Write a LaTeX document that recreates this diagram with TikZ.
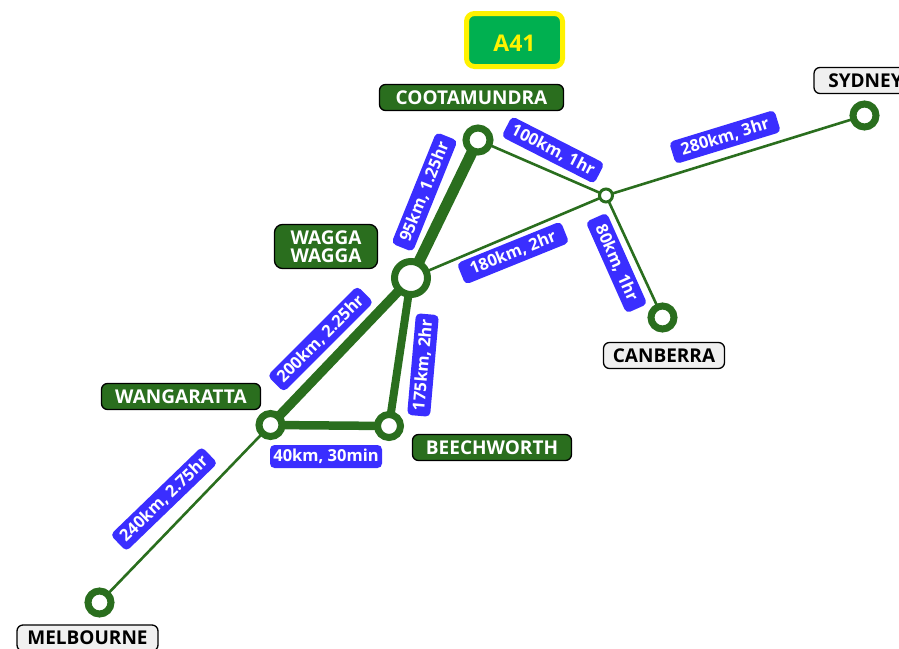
\documentclass[tikz,border=0pt]{standalone}
\usepackage{fontspec}
\setmainfont{Open Sans}
\definecolor{routegreen}{HTML}{2A6E1E}
\definecolor{signgreen}{HTML}{00B050}
\definecolor{timeblue}{HTML}{3A2EFF}
\definecolor{towngrey}{HTML}{F0F0F0}
\tikzset{
	station/.style={draw=routegreen, fill=white, circle, inner sep=0pt, outer sep=0pt, line width=7pt, minimum size=23pt},
	junction/.style={draw=routegreen, fill=white, circle, inner sep=0pt, outer sep=0pt, line width=3pt, minimum size=13pt},
	major/.style={draw=black, line width=1.3pt, fill=routegreen, text=white, rounded corners=6pt, font=\fontsize{19}{19}\selectfont\bfseries, align=center, inner sep=0pt},
	minor/.style={draw=black, line width=1.3pt, fill=towngrey, text=black, rounded corners=6pt, font=\fontsize{19}{19}\selectfont\bfseries, inner sep=0pt},
	timing/.style={fill=timeblue, text=white, rounded corners=4.5pt, font=\fontsize{16.5}{17}\selectfont\bfseries, inner sep=0pt, minimum height=23pt},
	road/.style={draw=routegreen, line width=2.6pt},
}
\begin{document}
\begin{tikzpicture}[x=1pt, y=-1pt]
	\useasboundingbox (0,0) rectangle (899,648);
	\node[station, minimum size=33pt] (wagga) at (411,278) {};
	\node[station, minimum size=24pt] (coota) at (478,140) {};
	\node[station] (wang) at (270.5,425) {};
	\node[station] (beech) at (389,426) {};
	\node[station] (melb) at (99.5,602.5) {};
	\node[station] (syd) at (864.5,115.5) {};
	\node[station] (canb) at (662.5,317.5) {};
	\node[junction] (junc) at (606,195.5) {};
	\draw[road, line width=11pt] (wagga) -- (coota);
	\draw[road, line width=9.5pt] (wagga) -- (wang);
	\draw[road, line width=8pt] (wagga) -- (beech);
	\draw[road, line width=8.5pt] (wang) -- (beech);
	\draw[road] (wang) -- (melb);
	\draw[road] (wagga) -- (junc);
	\draw[road] (coota) -- (junc);
	\draw[road] (junc) -- (syd);
	\draw[road] (junc) -- (canb);
	\node[draw=yellow, line width=5pt, fill=signgreen, text=yellow, rounded corners=8pt, font=\fontsize{23}{24}\selectfont\bfseries, minimum width=96pt, minimum height=53pt, inner sep=0pt, text height=22.4pt, text depth=0pt] (sign) at (514.5,40) {A41};
	\node[major, minimum width=184pt, minimum height=26pt] (lcoota) at (471.5,97.5) {COOTAMUNDRA};
	\node[major, minimum width=103pt, minimum height=44pt, rounded corners=8pt, font=\fontsize{19}{18.5}\selectfont\bfseries] (lwagga) at (326,246.5) {WAGGA\\WAGGA};
	\node[major, minimum width=159pt, minimum height=26pt] (lwang) at (181,396.5) {WANGARATTA};
	\node[major, minimum width=159pt, minimum height=26pt] (lbeech) at (492,447.5) {BEECHWORTH};
	\node[minor, minimum width=141pt, minimum height=26pt] (lmelb) at (87.5,638) {MELBOURNE};
	\node[minor, minimum width=103pt, minimum height=26pt] (lsyd) at (865.5,80.5) {SYDNEY};
	\node[minor, minimum width=121pt, minimum height=26pt] (lcanb) at (664,355.5) {CANBERRA};
	\node[timing, minimum width=110pt, rotate=17] (t1) at (725,137) {280km, 3hr};
	\node[timing, minimum width=104pt, rotate=-27] (t2) at (553,150) {100km, 1hr};
	\node[timing, minimum width=120pt, rotate=68] (t3) at (424.5,192) {95km, 1.25hr};
	\node[timing, minimum width=112pt, rotate=22] (t4) at (513,253) {180km, 2hr};
	\node[timing, minimum width=127pt, rotate=45] (t5) at (320.5,339) {200km, 2.25hr};
	\node[timing, minimum width=102pt, rotate=85] (t6) at (423,365) {175km, 2hr};
	\node[timing, minimum width=112pt] (t7) at (326,456.5) {40km, 30min};
	\node[timing, minimum width=127pt, rotate=44] (t8) at (164,499) {240km, 2.75hr};
	\node[timing, minimum width=100pt, rotate=-66] (t9) at (616.5,263) {80km, 1hr};
\end{tikzpicture}
\end{document}
